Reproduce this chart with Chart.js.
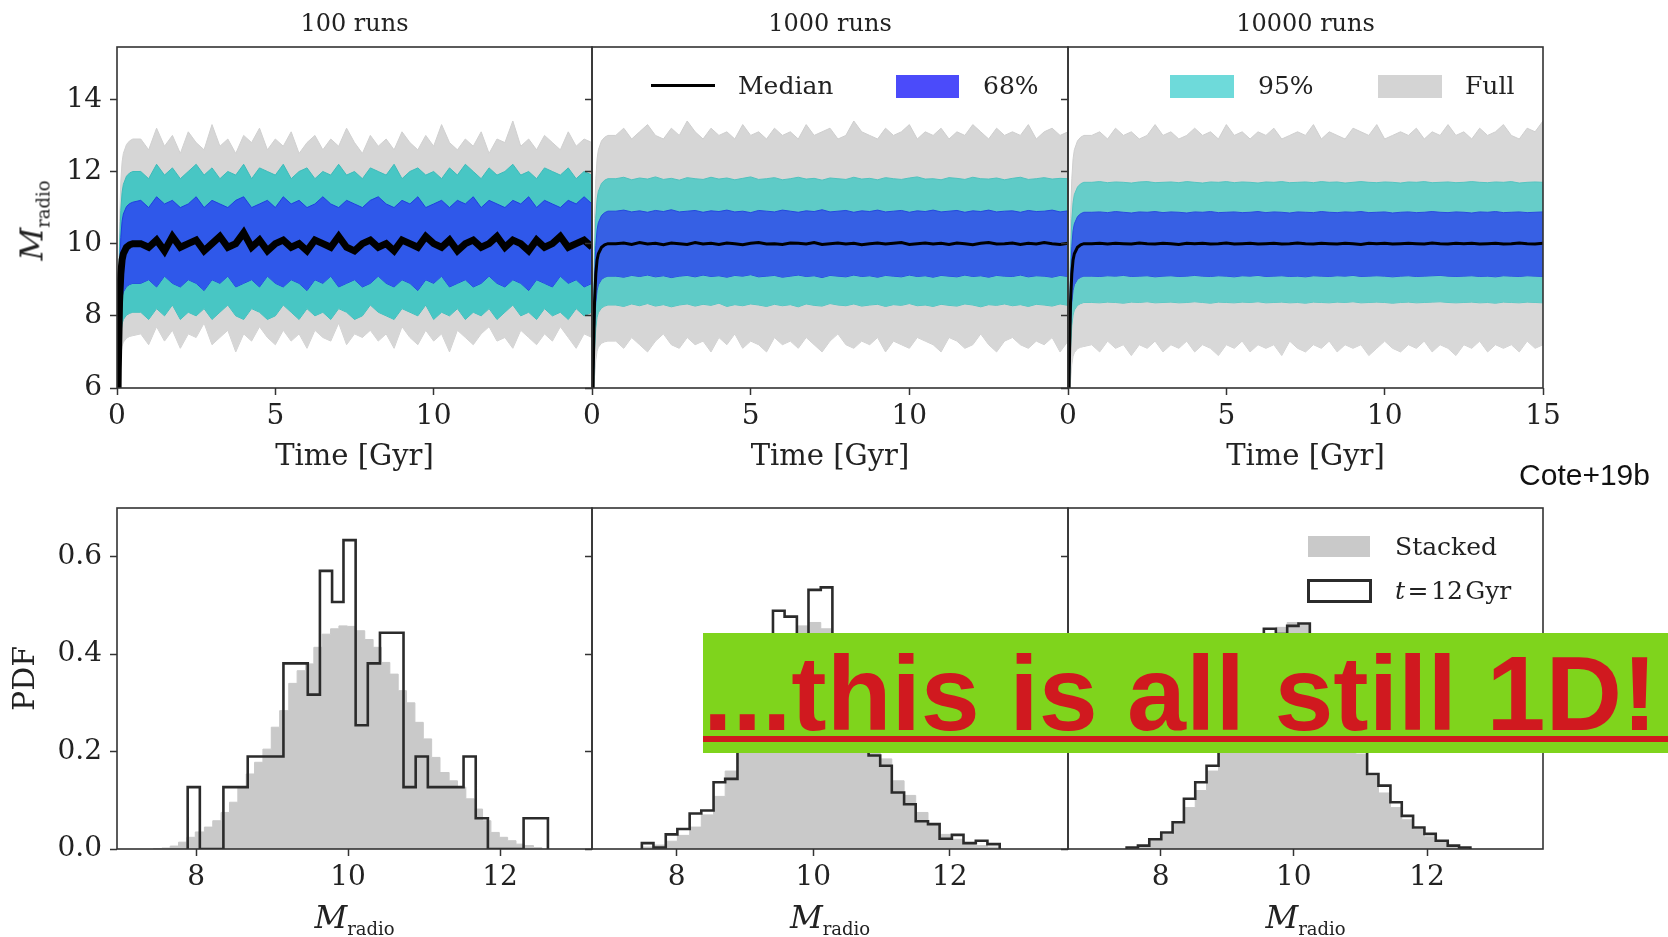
<!DOCTYPE html>
<html>
<head>
<meta charset="utf-8">
<title>M_radio runs (Cote+19b)</title>
<script src="https://cdn.jsdelivr.net/npm/chart.js@4.4.1/dist/chart.umd.min.js"></script>
<style>
  html, body { margin: 0; background: #fff; }
  #fig { position: relative; width: 1668px; height: 937px; overflow: hidden; font-family: "DejaVu Serif", serif; color: #222; }
  #plots canvas { position: absolute; left: 0; top: 0; }
  .lbl { position: absolute; white-space: nowrap; }
  .ttl { font-size: 24px; line-height: 29px; width: 300px; text-align: center; top: 9px; }
  .leg { font-size: 25px; line-height: 30px; }
  .sw { position: absolute; }
  .mr { font-size: 32px; line-height: 36px; width: 160px; text-align: center; }
  .mr i { font-style: italic; }
  .mr span { font-size: 18px; position: relative; top: 7px; }
  #cote { font-family: "Liberation Sans", Arial, sans-serif; font-size: 30px; line-height: 36px; right: 18px; top: 457px; color: #111; }
  #banner { position: absolute; left: 703px; top: 633px; width: 965px; height: 120px; background: #7fd41c; }
  #banner div { position: absolute; left: 0; top: 0; line-height: 120px; font-family: "Liberation Sans", Arial, sans-serif; font-weight: bold; font-size: 106px; color: #d0191f; white-space: nowrap; }
  #uline { position: absolute; left: 703px; top: 736px; width: 965px; height: 6px; background: #d0191f; }
</style>
</head>
<body>
<div id="fig">
  <div id="plots"></div>

  <!-- legend, top row -->
  <div class="sw" style="left:651px;top:84px;width:64px;height:3px;background:#000"></div>
  <div class="lbl leg" style="left:738px;top:71px">Median</div>
  <div class="sw" style="left:896px;top:75px;width:63px;height:23px;background:#4b4bfa"></div>
  <div class="lbl leg" style="left:983px;top:71px">68%</div>
  <div class="sw" style="left:1170px;top:75px;width:64px;height:23px;background:#6edada"></div>
  <div class="lbl leg" style="left:1258px;top:71px">95%</div>
  <div class="sw" style="left:1378px;top:75px;width:64px;height:23px;background:#d4d4d4"></div>
  <div class="lbl leg" style="left:1465px;top:71px">Full</div>

  <!-- legend, bottom row -->
  <div class="sw" style="left:1308px;top:536px;width:62px;height:21px;background:#c9c9c9"></div>
  <div class="lbl leg" style="left:1395px;top:532px">Stacked</div>
  <div class="sw" style="left:1307px;top:579px;width:65px;height:24px;border:3px solid #2b2b2b;box-sizing:border-box;background:#fff"></div>
  <div class="lbl leg" style="left:1395px;top:576px"><i>t</i>&#8202;=&#8202;12&#8202;Gyr</div>

  <!-- y label, top row -->
  <div class="lbl mr" style="left:-46px;top:200px;transform:rotate(-90deg)"><i>M</i><span>radio</span></div>

  <div class="lbl" id="cote">Cote+19b</div>

  <div id="banner"><div>...this is all still 1D!</div></div>
  <div id="uline"></div>
</div>

<script>
// panel titles and tick values
const panelTitles = ["100 runs", "1000 runs", "10000 runs"];
const timeTicks = [0, 5, 10];
const timeTicksLast = [0, 5, 10, 15];
const mradioTicks = [6, 8, 10, 12, 14];
const magTicks = [8, 10, 12];
const pdfTicks = [0, 0.2, 0.4, 0.6];
const magLims = [[6.96, 13.21], [6.76, 13.73], [6.61, 13.74]];

// time grid [Gyr], shared by the three upper panels
const tGyr = [
  0, 0.04, 0.08, 0.12, 0.16, 0.2, 0.3, 0.4, 0.5,
  0.75, 1, 1.25, 1.5, 1.75, 2, 2.25, 2.5, 2.75, 3,
  3.25, 3.5, 3.75, 4, 4.25, 4.5, 4.75, 5, 5.25, 5.5,
  5.75, 6, 6.25, 6.5, 6.75, 7, 7.25, 7.5, 7.75, 8,
  8.25, 8.5, 8.75, 9, 9.25, 9.5, 9.75, 10, 10.25, 10.5,
  10.75, 11, 11.25, 11.5, 11.75, 12, 12.25, 12.5, 12.75, 13,
  13.25, 13.5, 13.75, 14, 14.25, 14.5, 14.75, 15
];

// ---- 100 runs ----
const p1GreyHi = [3, 7.95, 10.62, 11.71, 12.26, 12.5, 12.75, 12.85, 12.9,
  12.9, 12.6, 13.2, 12.7, 13.0, 12.5, 13.1, 12.8, 12.6, 13.3,
  12.7, 12.9, 12.5, 13.0, 12.8, 13.2, 12.6, 12.9, 12.7, 13.1,
  12.5, 12.8, 13.0, 12.6, 12.9, 12.7, 13.2, 12.8, 12.5, 13.0,
  12.7, 12.9, 12.6, 13.1, 12.8, 12.6, 13.0, 12.7, 13.3, 12.8,
  12.6, 12.9, 12.7, 13.1, 12.5, 12.9, 12.8, 13.4, 12.7, 12.9,
  12.6, 13.0, 12.8, 12.6, 13.1, 12.7, 12.9, 12.8];
const p1CyanHi = [3, 7.5, 9.93, 10.92, 11.42, 11.64, 11.87, 11.96, 12.0,
  12.0, 11.8, 12.2, 11.9, 12.1, 11.8, 12.0, 12.2, 11.9, 12.1,
  11.8, 12.0, 11.9, 12.2, 11.8, 12.1, 12.0, 11.9, 12.2, 11.8,
  12.0, 12.1, 11.8, 12.0, 11.9, 12.2, 11.9, 12.0, 11.8, 12.1,
  12.0, 11.9, 12.2, 11.8, 12.0, 12.1, 11.9, 12.0, 11.8, 12.1,
  11.9, 12.2, 12.0, 11.8, 12.1, 11.9, 12.0, 12.2, 11.9, 12.0,
  11.8, 12.1, 12.0, 11.9, 12.1, 11.8, 12.0, 11.9];
const p1BlueHi = [3, 7.08, 9.28, 10.17, 10.62, 10.82, 11.03, 11.11, 11.15,
  11.2, 11.0, 11.3, 11.1, 11.2, 11.0, 11.1, 11.3, 11.0, 11.2,
  11.1, 11.0, 11.2, 11.3, 11.0, 11.1, 11.2, 11.0, 11.3, 11.1,
  11.2, 11.0, 11.1, 11.3, 11.1, 11.0, 11.2, 11.1, 11.0, 11.2,
  11.3, 11.1, 11.0, 11.2, 11.1, 11.3, 11.0, 11.1, 11.2, 11.0,
  11.2, 11.1, 11.3, 11.0, 11.2, 11.1, 11.0, 11.2, 11.1, 11.3,
  11.0, 11.2, 11.1, 11.0, 11.2, 11.1, 11.3, 11.1];
const p1Median = [3, 6.5, 8.39, 9.16, 9.55, 9.72, 9.9, 9.97, 10.0,
  10.0, 9.9, 10.1, 9.8, 10.2, 9.9, 10.0, 10.1, 9.8, 10.0,
  10.2, 9.9, 10.0, 10.3, 9.9, 10.1, 9.8, 10.0, 10.1, 9.9,
  10.0, 9.8, 10.1, 10.0, 9.9, 10.2, 9.9, 9.8, 10.0, 10.1,
  9.9, 10.0, 9.8, 10.1, 10.0, 9.9, 10.2, 10.0, 9.9, 10.1,
  9.8, 10.0, 10.1, 9.9, 10.0, 10.2, 9.9, 10.1, 10.0, 9.8,
  10.1, 9.9, 10.0, 10.2, 9.9, 10.0, 10.1, 9.9];
const p1BlueLo = [3, 5.95, 7.54, 8.19, 8.52, 8.66, 8.81, 8.87, 8.9,
  8.9, 9.0, 8.8, 9.1, 8.9, 8.8, 9.0, 8.9, 8.7, 9.0,
  8.9, 9.1, 8.8, 8.9, 9.0, 8.8, 9.1, 8.9, 8.8, 9.0,
  8.9, 8.7, 9.0, 8.9, 9.1, 8.8, 8.9, 9.0, 8.8, 8.9,
  9.1, 8.9, 8.8, 9.0, 8.9, 8.7, 9.0, 8.9, 9.1, 8.8,
  8.9, 9.0, 8.8, 8.9, 9.1, 8.9, 8.8, 9.0, 8.9, 8.7,
  9.0, 8.9, 8.8, 9.1, 8.9, 9.0, 8.8, 8.9];
const p1CyanLo = [3, 5.55, 6.93, 7.49, 7.77, 7.9, 8.02, 8.07, 8.1,
  8.1, 7.9, 8.2, 8.0, 8.3, 7.9, 8.1, 8.0, 8.2, 7.9,
  8.1, 8.3, 8.0, 7.9, 8.2, 8.1, 7.9, 8.0, 8.3, 8.1,
  7.9, 8.2, 8.0, 8.1, 7.9, 8.2, 8.1, 7.9, 8.0, 8.3,
  8.1, 8.0, 7.9, 8.2, 8.1, 8.0, 8.3, 7.9, 8.1, 8.0,
  8.2, 7.9, 8.1, 8.0, 8.2, 7.9, 8.1, 8.3, 8.0, 8.1,
  7.9, 8.2, 8.0, 8.1, 7.9, 8.2, 8.0, 8.1];
const p1GreyLo = [3, 5.23, 6.43, 6.92, 7.16, 7.27, 7.38, 7.43, 7.45,
  7.5, 7.2, 7.7, 7.3, 7.6, 7.1, 7.5, 7.4, 7.8, 7.2,
  7.4, 7.6, 7.0, 7.5, 7.3, 7.7, 7.4, 7.2, 7.6, 7.3,
  7.5, 7.1, 7.6, 7.4, 7.3, 7.8, 7.2, 7.5, 7.4, 7.6,
  7.3, 7.5, 7.1, 7.7, 7.4, 7.2, 7.6, 7.3, 7.5, 7.0,
  7.6, 7.4, 7.2, 7.5, 7.7, 7.3, 7.4, 7.1, 7.6, 7.4,
  7.2, 7.5, 7.3, 7.7, 7.4, 7.1, 7.5, 7.4];

// ---- 1000 runs ----
const p2GreyHi = [3, 8, 10.7, 11.8, 12.35, 12.6, 12.85, 12.95, 13.0,
  13.0, 13.2, 12.9, 13.1, 13.3, 13.0, 12.9, 13.2, 13.0, 13.4,
  13.1, 12.9, 13.2, 13.0, 13.1, 12.9, 13.3, 13.0, 13.1, 12.9,
  13.2, 13.0, 13.1, 12.9, 13.3, 13.0, 13.1, 13.2, 12.9, 13.0,
  13.4, 13.1, 13.0, 12.9, 13.2, 13.0, 13.1, 13.3, 12.9, 13.1,
  13.0, 13.2, 12.9, 13.1, 13.0, 13.3, 13.1, 12.9, 13.2, 13.0,
  13.1, 13.0, 13.3, 12.9, 13.1, 13.2, 13.0, 13.1];
const p2CyanHi = [3, 7.4, 9.78, 10.74, 11.23, 11.45, 11.67, 11.76, 11.8,
  11.80, 11.84, 11.77, 11.82, 11.79, 11.85, 11.78, 11.81, 11.76, 11.83,
  11.80, 11.78, 11.84, 11.79, 11.82, 11.77, 11.81, 11.85, 11.78, 11.80,
  11.83, 11.77, 11.80, 11.84, 11.79, 11.81, 11.76, 11.82, 11.80, 11.78,
  11.84, 11.79, 11.81, 11.77, 11.83, 11.80, 11.78, 11.82, 11.85, 11.79,
  11.80, 11.77, 11.83, 11.81, 11.78, 11.84, 11.80, 11.79, 11.82, 11.77,
  11.81, 11.84, 11.78, 11.80, 11.83, 11.79, 11.81, 11.80];
const p2BlueHi = [3, 6.95, 9.08, 9.95, 10.39, 10.58, 10.78, 10.86, 10.9,
  10.90, 10.93, 10.88, 10.91, 10.87, 10.92, 10.89, 10.94, 10.88, 10.90,
  10.92, 10.87, 10.91, 10.89, 10.93, 10.88, 10.90, 10.86, 10.92, 10.90,
  10.88, 10.93, 10.90, 10.87, 10.91, 10.89, 10.94, 10.88, 10.90, 10.92,
  10.87, 10.91, 10.89, 10.93, 10.88, 10.90, 10.92, 10.87, 10.91, 10.89,
  10.93, 10.88, 10.90, 10.92, 10.87, 10.91, 10.89, 10.93, 10.88, 10.90,
  10.91, 10.87, 10.92, 10.89, 10.90, 10.93, 10.88, 10.91];
const p2Median = [3, 6.5, 8.39, 9.16, 9.55, 9.72, 9.9, 9.97, 10.0,
  10.00, 10.02, 9.98, 10.03, 9.99, 10.01, 9.97, 10.02, 10.00, 9.98,
  10.03, 9.99, 10.01, 9.98, 10.02, 10.00, 9.97, 10.01, 10.03, 9.99,
  10.00, 9.98, 10.02, 10.01, 9.99, 10.03, 9.98, 10.00, 10.02, 9.99,
  10.01, 9.97, 10.00, 10.02, 9.99, 10.01, 10.03, 9.98, 10.00, 10.02,
  9.99, 10.01, 9.98, 10.02, 10.00, 9.97, 10.01, 10.03, 9.99, 10.00,
  10.02, 9.98, 10.01, 9.99, 10.03, 10.00, 9.98, 10.01];
const p2BlueLo = [3, 6.05, 7.7, 8.37, 8.7, 8.86, 9.01, 9.07, 9.1,
  9.10, 9.07, 9.12, 9.09, 9.13, 9.08, 9.11, 9.06, 9.10, 9.12,
  9.08, 9.13, 9.09, 9.11, 9.07, 9.12, 9.10, 9.14, 9.08, 9.10,
  9.12, 9.07, 9.10, 9.13, 9.09, 9.11, 9.06, 9.12, 9.10, 9.08,
  9.13, 9.09, 9.11, 9.07, 9.12, 9.10, 9.08, 9.13, 9.09, 9.11,
  9.07, 9.12, 9.10, 9.08, 9.13, 9.09, 9.11, 9.07, 9.12, 9.10,
  9.09, 9.13, 9.08, 9.11, 9.10, 9.07, 9.12, 9.09];
const p2CyanLo = [3, 5.65, 7.08, 7.66, 7.96, 8.09, 8.22, 8.27, 8.3,
  8.30, 8.26, 8.33, 8.28, 8.34, 8.27, 8.31, 8.25, 8.30, 8.33,
  8.27, 8.32, 8.29, 8.35, 8.26, 8.31, 8.28, 8.33, 8.30, 8.26,
  8.32, 8.28, 8.31, 8.25, 8.33, 8.29, 8.27, 8.34, 8.30, 8.28,
  8.33, 8.27, 8.30, 8.32, 8.26, 8.31, 8.29, 8.34, 8.28, 8.30,
  8.26, 8.32, 8.29, 8.27, 8.33, 8.30, 8.25, 8.31, 8.29, 8.33,
  8.28, 8.31, 8.26, 8.32, 8.30, 8.27, 8.33, 8.29];
const p2GreyLo = [3, 5.15, 6.31, 6.78, 7.02, 7.13, 7.24, 7.28, 7.3,
  7.3, 7.1, 7.4, 7.2, 7.0, 7.3, 7.5, 7.2, 7.1, 7.4,
  7.2, 7.3, 7.0, 7.4, 7.2, 7.5, 7.1, 7.3, 7.2, 7.0,
  7.4, 7.2, 7.3, 7.1, 7.4, 7.2, 7.0, 7.3, 7.5, 7.2,
  7.1, 7.3, 7.2, 7.4, 7.0, 7.3, 7.2, 7.1, 7.4, 7.3,
  7.2, 7.0, 7.4, 7.3, 7.1, 7.2, 7.5, 7.2, 7.0, 7.3,
  7.4, 7.2, 7.1, 7.3, 7.2, 7.4, 7.0, 7.3];

// ---- 10000 runs ----
const p3GreyHi = [3, 8, 10.7, 11.8, 12.35, 12.6, 12.85, 12.95, 13.0,
  13.0, 13.1, 12.9, 13.2, 13.0, 13.1, 12.9, 13.0, 13.3, 13.0,
  13.1, 12.9, 13.0, 13.2, 13.0, 13.1, 12.9, 13.3, 13.0, 13.1,
  12.9, 13.1, 13.0, 13.2, 12.9, 13.0, 13.1, 13.0, 13.3, 12.9,
  13.1, 13.0, 12.9, 13.2, 13.1, 13.0, 13.3, 12.9, 13.0, 13.1,
  13.0, 13.2, 12.9, 13.1, 13.0, 13.3, 13.0, 13.1, 12.9, 13.2,
  13.0, 13.1, 13.3, 13.0, 12.9, 13.2, 13.1, 13.4];
const p3CyanHi = [3, 7.35, 9.71, 10.66, 11.14, 11.36, 11.57, 11.66, 11.7,
  11.70, 11.72, 11.69, 11.71, 11.70, 11.68, 11.71, 11.72, 11.69, 11.70,
  11.71, 11.69, 11.72, 11.70, 11.68, 11.71, 11.70, 11.72, 11.69, 11.71,
  11.70, 11.68, 11.71, 11.70, 11.72, 11.69, 11.70, 11.71, 11.69, 11.72,
  11.70, 11.71, 11.68, 11.70, 11.72, 11.70, 11.69, 11.71, 11.70, 11.68,
  11.71, 11.70, 11.72, 11.69, 11.70, 11.71, 11.69, 11.70, 11.72, 11.70,
  11.69, 11.71, 11.70, 11.72, 11.68, 11.70, 11.71, 11.70];
const p3BlueHi = [3, 6.94, 9.06, 9.92, 10.36, 10.55, 10.75, 10.83, 10.87,
  10.87, 10.88, 10.86, 10.89, 10.87, 10.85, 10.88, 10.87, 10.89, 10.86,
  10.88, 10.87, 10.85, 10.88, 10.87, 10.89, 10.86, 10.87, 10.88, 10.86,
  10.87, 10.89, 10.86, 10.88, 10.87, 10.85, 10.88, 10.87, 10.86, 10.89,
  10.87, 10.86, 10.88, 10.87, 10.89, 10.86, 10.87, 10.88, 10.85, 10.87,
  10.88, 10.86, 10.87, 10.89, 10.87, 10.86, 10.88, 10.87, 10.85, 10.88,
  10.87, 10.89, 10.86, 10.87, 10.88, 10.86, 10.87, 10.88];
const p3Median = [3, 6.5, 8.39, 9.16, 9.55, 9.72, 9.9, 9.97, 10.0,
  10.00, 10.01, 9.99, 10.01, 10.00, 9.99, 10.02, 10.00, 9.99, 10.01,
  10.00, 9.98, 10.01, 10.00, 10.01, 9.99, 10.00, 10.02, 9.99, 10.00,
  10.01, 9.99, 10.00, 10.01, 9.99, 10.00, 10.02, 10.00, 9.99, 10.01,
  10.00, 9.99, 10.01, 10.00, 9.98, 10.01, 10.00, 10.01, 9.99, 10.00,
  10.01, 10.00, 9.99, 10.02, 10.00, 9.99, 10.01, 10.00, 10.01, 9.99,
  10.00, 10.01, 9.99, 10.00, 10.02, 10.00, 9.99, 10.01];
const p3BlueLo = [3, 6.05, 7.7, 8.37, 8.7, 8.86, 9.01, 9.07, 9.1,
  9.10, 9.09, 9.11, 9.10, 9.12, 9.09, 9.10, 9.11, 9.08, 9.10,
  9.11, 9.09, 9.10, 9.12, 9.10, 9.09, 9.11, 9.10, 9.08, 9.11,
  9.10, 9.12, 9.09, 9.10, 9.11, 9.09, 9.10, 9.08, 9.11, 9.10,
  9.09, 9.11, 9.10, 9.12, 9.09, 9.10, 9.11, 9.10, 9.08, 9.10,
  9.11, 9.09, 9.10, 9.11, 9.12, 9.10, 9.09, 9.10, 9.11, 9.09,
  9.10, 9.08, 9.11, 9.10, 9.09, 9.11, 9.10, 9.09];
const p3CyanLo = [3, 5.69, 7.13, 7.73, 8.02, 8.16, 8.29, 8.34, 8.37,
  8.37, 8.36, 8.38, 8.37, 8.35, 8.38, 8.37, 8.39, 8.36, 8.37,
  8.38, 8.36, 8.37, 8.39, 8.37, 8.35, 8.38, 8.37, 8.36, 8.38,
  8.37, 8.39, 8.36, 8.37, 8.38, 8.36, 8.37, 8.35, 8.38, 8.37,
  8.36, 8.38, 8.37, 8.39, 8.36, 8.37, 8.38, 8.37, 8.35, 8.37,
  8.38, 8.36, 8.37, 8.38, 8.39, 8.37, 8.36, 8.37, 8.38, 8.36,
  8.37, 8.35, 8.38, 8.37, 8.36, 8.38, 8.37, 8.36];
const p3GreyLo = [3, 5.08, 6.2, 6.65, 6.88, 6.98, 7.09, 7.13, 7.15,
  7.2, 7.0, 7.3, 7.1, 7.2, 6.9, 7.2, 7.1, 7.3, 7.0,
  7.2, 7.1, 7.3, 7.0, 7.2, 7.1, 6.9, 7.2, 7.1, 7.3,
  7.0, 7.2, 7.1, 7.2, 6.9, 7.3, 7.1, 7.0, 7.2, 7.1,
  7.3, 7.0, 7.2, 7.1, 7.2, 6.9, 7.1, 7.3, 7.1, 7.0,
  7.2, 7.1, 7.3, 7.0, 7.2, 7.1, 6.9, 7.2, 7.1, 7.3,
  7.0, 7.2, 7.1, 7.2, 7.0, 7.3, 7.1, 7.2];

// ---- PDFs at t = 12 Gyr (outline) and stacked over time (grey) ----
const h1Edges = [7.89, 8.05, 8.21, 8.36, 8.52, 8.68, 8.84, 9.00, 9.15, 9.31,
  9.47, 9.63, 9.79, 9.94, 10.10, 10.26, 10.42, 10.58, 10.73, 10.89,
  11.05, 11.21, 11.37, 11.52, 11.68, 11.84, 12.00, 12.16, 12.31, 12.47, 12.63];
const h1Pdf = [0.127, 0, 0, 0.127, 0.127, 0.19, 0.19, 0.19, 0.381, 0.381,
  0.317, 0.571, 0.507, 0.634, 0.254, 0.381, 0.444, 0.444, 0.127, 0.19,
  0.127, 0.127, 0.127, 0.19, 0.063, 0, 0, 0, 0.063, 0.063];
const s1Edges = [7.44, 7.55, 7.66, 7.77, 7.88, 7.99, 8.11, 8.22, 8.33, 8.44,
  8.55, 8.66, 8.77, 8.88, 8.99, 9.10, 9.22, 9.33, 9.44, 9.55,
  9.66, 9.77, 9.88, 9.99, 10.10, 10.22, 10.33, 10.44, 10.55, 10.66,
  10.77, 10.88, 10.99, 11.10, 11.21, 11.33, 11.44, 11.55, 11.66, 11.77,
  11.88, 11.99, 12.10, 12.21, 12.32, 12.44, 12.55];
const s1Pdf = [0.001, 0.002, 0.006, 0.014, 0.024, 0.035, 0.045, 0.058, 0.075, 0.096,
  0.127, 0.154, 0.178, 0.205, 0.25, 0.284, 0.34, 0.366, 0.38, 0.414,
  0.441, 0.452, 0.458, 0.457, 0.448, 0.43, 0.414, 0.383, 0.359, 0.325,
  0.30, 0.26, 0.226, 0.188, 0.157, 0.14, 0.127, 0.103, 0.082, 0.058,
  0.034, 0.024, 0.017, 0.01, 0.007, 0.003];

const h2Edges = [7.49, 7.66, 7.84, 8.01, 8.19, 8.36, 8.54, 8.71, 8.89, 9.06,
  9.23, 9.41, 9.58, 9.76, 9.93, 10.11, 10.28, 10.46, 10.63, 10.81,
  10.98, 11.15, 11.33, 11.50, 11.68, 11.85, 12.03, 12.20, 12.38, 12.55, 12.73];
const h2Pdf = [0.012, 0.003, 0.03, 0.041, 0.073, 0.079, 0.137, 0.144, 0.22, 0.31,
  0.40, 0.489, 0.477, 0.43, 0.532, 0.537, 0.42, 0.33, 0.25, 0.192,
  0.171, 0.116, 0.092, 0.057, 0.051, 0.021, 0.029, 0.012, 0.017, 0.010];
const s2Pdf = [0.004, 0.008, 0.016, 0.028, 0.045, 0.07, 0.108, 0.16, 0.215, 0.28,
  0.345, 0.39, 0.43, 0.458, 0.465, 0.452, 0.405, 0.335, 0.265, 0.21,
  0.185, 0.14, 0.11, 0.075, 0.05, 0.03, 0.02, 0.012, 0.007, 0.004];

const h3Edges = [7.49, 7.66, 7.83, 8.01, 8.18, 8.35, 8.52, 8.69, 8.87, 9.04,
  9.21, 9.38, 9.55, 9.73, 9.90, 10.07, 10.24, 10.41, 10.59, 10.76,
  10.93, 11.10, 11.27, 11.45, 11.62, 11.79, 11.96, 12.13, 12.31, 12.48, 12.65];
const h3Pdf = [0.003, 0.007, 0.02, 0.034, 0.055, 0.103, 0.137, 0.171, 0.22, 0.27,
  0.33, 0.39, 0.452, 0.441, 0.458, 0.463, 0.42, 0.36, 0.30, 0.24,
  0.20, 0.154, 0.13, 0.096, 0.068, 0.044, 0.031, 0.017, 0.007, 0.003];
const s3Pdf = [0.003, 0.007, 0.017, 0.03, 0.052, 0.085, 0.12, 0.16, 0.21, 0.265,
  0.325, 0.385, 0.43, 0.455, 0.465, 0.46, 0.43, 0.375, 0.31, 0.25,
  0.195, 0.15, 0.115, 0.085, 0.06, 0.04, 0.025, 0.014, 0.007, 0.003];

// ---- layout (pixels) ----
const W = 1668, H = 937;
const COLS = [[117, 592], [592, 1068], [1068, 1543]];
const TOP = [47, 388], BOT = [508, 849];

const bandStyle = [
  { medW: 7, blue: "#2f58ea", blueEdge: "#1f3fe0", cyan: "#48c6c4", cyanEdge: "#3bbcba", grey: "#d6d6d6", greyEdge: "#d0d0d0" },
  { medW: 3, blue: "#3660e4", blueEdge: "#2448de", cyan: "#5ecbc7", cyanEdge: "#4fc2be", grey: "#d6d6d6", greyEdge: "#cecece" },
  { medW: 3, blue: "#3760e4", blueEdge: "#2a4cdf", cyan: "#66cdc9", cyanEdge: "#55c5c1", grey: "#d8d8d8", greyEdge: "#cfcfcf" }
];

const tickFont = { family: "DejaVu Serif", size: 28 };
const plots = document.getElementById("plots");
const fig = document.getElementById("fig");

const frame = {
  id: "frame",
  afterDatasetsDraw(chart) {
    const a = chart.chartArea, ctx = chart.ctx;
    ctx.save();
    ctx.strokeStyle = "#333";
    ctx.lineWidth = 1.6;
    ctx.strokeRect(a.left, a.top, a.right - a.left, a.bottom - a.top);
    ctx.restore();
  }
};

function pts(ys) {
  return ys.map((y, i) => ({ x: tGyr[i], y: y }));
}

function stepPts(edges, h) {
  const out = [{ x: edges[0], y: 0 }];
  h.forEach((v, i) => out.push({ x: edges[i], y: v }));
  out.push({ x: edges[h.length], y: 0 });
  return out;
}

function axis(o) {
  return {
    type: "linear", min: o.min, max: o.max,
    afterBuildTicks: s => { s.ticks = o.ticks.map(v => ({ value: v })); },
    afterFit: s => {
      if (o.width != null) s.width = o.width;
      if (o.height != null) s.height = o.height;
    },
    grid: { drawOnChartArea: false, drawTicks: true, tickLength: 7, tickWidth: 1.5, tickColor: "#333" },
    border: { display: false },
    ticks: { autoSkip: false, maxRotation: 0, padding: o.pad, color: "#222", font: tickFont, callback: o.fmt },
    title: o.title || { display: false }
  };
}

function makePanel(col, rows, datasets, xAx, yAx, xH, yW) {
  const [left, right] = COLS[col];
  const canvas = document.createElement("canvas");
  canvas.width = W; canvas.height = H;
  plots.appendChild(canvas);
  new Chart(canvas, {
    type: "line",
    data: { datasets },
    options: {
      responsive: false, animation: false, events: [],
      plugins: { legend: { display: false }, tooltip: { enabled: false } },
      elements: { point: { radius: 0 }, line: { tension: 0 } },
      layout: { padding: { left: left - yW, right: W - right, top: rows[0], bottom: H - rows[1] - xH } },
      scales: { x: xAx, y: yAx }
    },
    plugins: [frame]
  });
}

// upper row: M_radio vs time
const timeRuns = [
  [p1Median, p1BlueHi, p1BlueLo, p1CyanHi, p1CyanLo, p1GreyHi, p1GreyLo],
  [p2Median, p2BlueHi, p2BlueLo, p2CyanHi, p2CyanLo, p2GreyHi, p2GreyLo],
  [p3Median, p3BlueHi, p3BlueLo, p3CyanHi, p3CyanLo, p3GreyHi, p3GreyLo]
];

timeRuns.forEach((s, k) => {
  const st = bandStyle[k];
  const ds = [
    { data: pts(s[0]), borderColor: "#000", borderWidth: st.medW, fill: false },
    { data: pts(s[1]), borderColor: st.blueEdge, backgroundColor: st.blue, borderWidth: 1, fill: "+1" },
    { data: pts(s[2]), borderColor: st.blueEdge, borderWidth: 1, fill: false },
    { data: pts(s[3]), borderColor: st.cyanEdge, backgroundColor: st.cyan, borderWidth: 1, fill: "+1" },
    { data: pts(s[4]), borderColor: st.cyanEdge, borderWidth: 1, fill: false },
    { data: pts(s[5]), borderColor: st.greyEdge, backgroundColor: st.grey, borderWidth: 1, fill: "+1" },
    { data: pts(s[6]), borderColor: st.greyEdge, borderWidth: 1, fill: false }
  ];
  const yW = k === 0 ? 117 : 10;
  makePanel(k, TOP, ds,
    axis({ min: 0, max: 15, ticks: k === 2 ? timeTicksLast : timeTicks, pad: 5, height: 87,
      fmt: v => String(v),
      title: { display: true, text: "Time [Gyr]", color: "#222", font: { family: "DejaVu Serif", size: 29 }, padding: 0 } }),
    axis({ min: 6, max: 15.45, ticks: mradioTicks, pad: 8, width: yW,
      fmt: k === 0 ? (v => String(v)) : (() => "") }),
    87, yW);
});

// lower row: PDFs
const pdfSets = [
  { outE: h1Edges, out: h1Pdf, grE: s1Edges, gr: s1Pdf },
  { outE: h2Edges, out: h2Pdf, grE: h2Edges, gr: s2Pdf },
  { outE: h3Edges, out: h3Pdf, grE: h3Edges, gr: s3Pdf }
];

pdfSets.forEach((p, k) => {
  const ds = [
    { data: stepPts(p.outE, p.out), stepped: true, fill: false, borderColor: "#2b2b2b", borderWidth: 2.6 },
    { data: stepPts(p.grE, p.gr), stepped: true, fill: "origin", backgroundColor: "#c9c9c9", borderColor: "#c9c9c9", borderWidth: 1 }
  ];
  const yW = k === 0 ? 117 : 10;
  makePanel(k, BOT, ds,
    axis({ min: magLims[k][0], max: magLims[k][1], ticks: magTicks, pad: 5, height: 45, fmt: v => String(v) }),
    axis({ min: 0, max: 0.70, ticks: pdfTicks, pad: 8, width: yW,
      fmt: k === 0 ? (v => v.toFixed(1)) : (() => ""),
      title: k === 0 ? { display: true, text: "PDF", color: "#222", font: { family: "DejaVu Serif", size: 30 }, padding: { top: 8, bottom: 0 } } : { display: false } }),
    45, yW);
});

// panel titles and the M_radio labels under the lower row
panelTitles.forEach((t, k) => {
  const c = (COLS[k][0] + COLS[k][1]) / 2;
  const d = document.createElement("div");
  d.className = "lbl ttl";
  d.style.left = (c - 150) + "px";
  d.textContent = t;
  fig.insertBefore(d, document.getElementById("cote"));

  const m = document.createElement("div");
  m.className = "lbl mr";
  m.style.left = (c - 80) + "px";
  m.style.top = "899px";
  m.innerHTML = "<i>M</i><span>radio</span>";
  fig.insertBefore(m, document.getElementById("cote"));
});
</script>
</body>
</html>
